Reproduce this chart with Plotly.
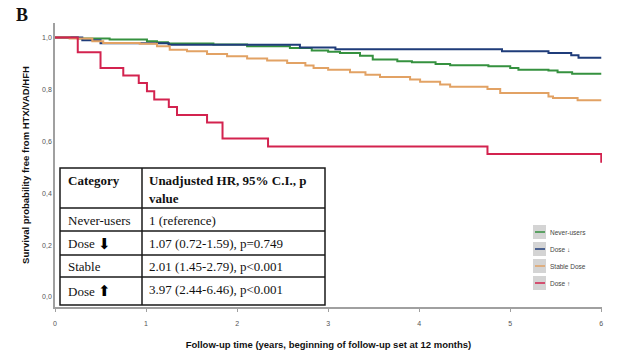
import plotly.graph_objects as go

# ---------------- data ----------------
never_t = [0, 0.25, 0.60, 1.01, 1.12, 1.24, 1.74, 2.11, 2.58, 2.82, 3.00, 3.13, 3.35, 3.49, 3.76, 3.92, 4.18, 4.34, 4.76, 5.00, 5.09, 5.42, 5.52, 5.68, 6.0]
never_s = [1.0, 0.996, 0.992, 0.986, 0.982, 0.977, 0.973, 0.966, 0.960, 0.950, 0.945, 0.940, 0.930, 0.915, 0.909, 0.905, 0.898, 0.893, 0.889, 0.883, 0.876, 0.873, 0.866, 0.860, 0.860]

down_t = [0, 0.30, 0.50, 1.25, 2.69, 3.08, 4.91, 5.42, 5.67, 5.75, 6.0]
down_s = [1.0, 0.990, 0.978, 0.972, 0.962, 0.955, 0.947, 0.940, 0.932, 0.922, 0.922]

stable_t = [0, 0.16, 0.41, 0.53, 0.93, 1.12, 1.26, 1.45, 1.67, 1.89, 2.11, 2.33, 2.55, 2.75, 2.84, 3.00, 3.24, 3.41, 3.57, 3.90, 4.01, 4.23, 4.34, 4.75, 4.89, 5.42, 5.47, 5.74, 6.0]
stable_s = [1.0, 0.996, 0.986, 0.979, 0.976, 0.966, 0.953, 0.947, 0.937, 0.928, 0.919, 0.911, 0.902, 0.892, 0.883, 0.876, 0.866, 0.857, 0.848, 0.838, 0.830, 0.819, 0.810, 0.802, 0.786, 0.773, 0.767, 0.758, 0.758]

up_t = [0, 0.25, 0.50, 0.75, 0.92, 1.01, 1.09, 1.25, 1.34, 1.67, 1.84, 2.34, 4.75, 6.0]
up_s = [1.0, 0.943, 0.883, 0.854, 0.825, 0.793, 0.761, 0.732, 0.701, 0.673, 0.611, 0.580, 0.551, 0.517]

series_names = ["Never-users", "Dose ↓", "Stable Dose", "Dose ↑"]
series_colors = ["#35913f", "#1f3c7a", "#e2a264", "#d3234f"]
series_t = [never_t, down_t, stable_t, up_t]
series_s = [never_s, down_s, stable_s, up_s]

x_ticks = [0, 1, 2, 3, 4, 5, 6]
y_ticks = [0.0, 0.2, 0.4, 0.6, 0.8, 1.0]
y_tick_labels = ["0,0", "0,2", "0,4", "0,6", "0,8", "1,0"]

table_cat = ["Never-users", "Dose", "Stable", "Dose"]
table_arrow = ["", "⬇", "", "⬆"]
table_hr = ["1 (reference)", "1.07 (0.72-1.59), p=0.749", "2.01 (1.45-2.79), p<0.001", "3.97 (2.44-6.46), p<0.001"]
table_head = ["Category", "Unadjusted HR, 95% C.I., p", "value"]

# ---------------- layout helpers ----------------
W, H = 618, 351
L, R, T, B = 55, 602, 23, 307


def px(x):
    return (x - L) / (R - L)


def py(y):
    return (B - y) / (B - T)


fig = go.Figure()
for t, s, n, c in zip(series_t, series_s, series_names, series_colors):
    fig.add_trace(go.Scatter(x=t, y=s, mode="lines", name=n,
                             line=dict(color=c, width=2, shape="hv"),
                             showlegend=False, hoverinfo="skip"))

shapes = []
annotations = []

# table
tl, tr, tt, tb = 60, 325, 168, 305
colx = 142
rows_y = [208, 231, 255, 277]
lc = "#1a1a1a"
shapes.append(dict(type="rect", xref="paper", yref="paper", x0=px(tl), x1=px(tr), y0=py(tb), y1=py(tt),
                   line=dict(color=lc, width=1.5), fillcolor="white", layer="above"))
shapes.append(dict(type="line", xref="paper", yref="paper", x0=px(colx), x1=px(colx), y0=py(tb), y1=py(tt),
                   line=dict(color=lc, width=1.5), layer="above"))
for ry in rows_y:
    shapes.append(dict(type="line", xref="paper", yref="paper", x0=px(tl), x1=px(tr), y0=py(ry), y1=py(ry),
                       line=dict(color=lc, width=1.5), layer="above"))

serif = "Liberation Serif"
annotations.append(dict(x=px(66), y=py(181), xref="paper", yref="paper", text="<b>%s</b>" % table_head[0],
                        showarrow=False, xanchor="left", yanchor="middle",
                        font=dict(family=serif, size=13, color="#111")))
annotations.append(dict(x=px(147), y=py(181), xref="paper", yref="paper", text="<b>%s</b>" % table_head[1],
                        showarrow=False, xanchor="left", yanchor="middle",
                        font=dict(family=serif, size=13, color="#111")))
annotations.append(dict(x=px(147), y=py(198), xref="paper", yref="paper", text="<b>%s</b>" % table_head[2],
                        showarrow=False, xanchor="left", yanchor="middle",
                        font=dict(family=serif, size=13, color="#111")))
row_centers = [220, 243.5, 266.5, 291]
hr_centers = [220, 243.5, 266.5, 289]
for cat, arr, hr, yc, yh in zip(table_cat, table_arrow, table_hr, row_centers, hr_centers):
    annotations.append(dict(x=px(66), y=py(yc), xref="paper", yref="paper", text=cat,
                            showarrow=False, xanchor="left", yanchor="middle",
                            font=dict(family=serif, size=13, color="#111")))
    if arr:
        annotations.append(dict(x=px(104), y=py(yc), xref="paper", yref="paper", text=arr,
                                showarrow=False, xanchor="center", yanchor="middle",
                                font=dict(family="DejaVu Sans", size=15, color="#000")))
    annotations.append(dict(x=px(147), y=py(yh), xref="paper", yref="paper", text=hr,
                            showarrow=False, xanchor="left", yanchor="middle",
                            font=dict(family=serif, size=13, color="#111")))

# legend (manual, SPSS-style gray swatches)
leg_y = [232, 249, 266, 283]
for n, c, ly in zip(series_names, series_colors, leg_y):
    shapes.append(dict(type="rect", xref="paper", yref="paper", x0=px(533), x1=px(546), y0=py(ly + 7), y1=py(ly - 7),
                       line=dict(width=0), fillcolor="#d4d4d4", layer="above"))
    shapes.append(dict(type="line", xref="paper", yref="paper", x0=px(535), x1=px(545), y0=py(ly), y1=py(ly),
                       line=dict(color=c, width=1.5), layer="above"))
    annotations.append(dict(x=px(548), y=py(ly), xref="paper", yref="paper", text=n,
                            showarrow=False, xanchor="left", yanchor="middle",
                            font=dict(family="Liberation Sans", size=6.5, color="#444")))

# panel letter
annotations.append(dict(x=px(14), y=py(15), xref="paper", yref="paper", text="<b>B</b>",
                        showarrow=False, xanchor="left", yanchor="middle",
                        font=dict(family=serif, size=18, color="#111")))

fig.update_layout(
    width=W, height=H,
    margin=dict(l=L, r=W - R, t=T, b=H - B, pad=0, autoexpand=False),
    paper_bgcolor="white", plot_bgcolor="white",
    font=dict(family="Liberation Sans", color="#555"),
    shapes=shapes, annotations=annotations,
    xaxis=dict(range=[0, 6.008], tickvals=x_ticks, ticktext=[str(v) for v in x_ticks],
               showgrid=False, zeroline=False, showline=True, linecolor="#a0a0a0", linewidth=1.5,
               ticks="outside", ticklen=3, tickcolor="#a0a0a0", tickfont=dict(size=7, color="#555"),
               ticklabelstandoff=6, automargin=False,
               title=dict(text="<b>Follow-up time (years, beginning of follow-up set at 12 months)</b>",
                          font=dict(size=9.5, color="#111"), standoff=15)),
    yaxis=dict(range=[-0.0385, 1.056], tickvals=y_ticks, ticktext=y_tick_labels,
               showgrid=False, zeroline=False, showline=True, linecolor="#a0a0a0", linewidth=1.5,
               ticks="", tickfont=dict(size=7, color="#555"), automargin=False,
               title=dict(text="<b>Survival probability free from HTX/VAD/HFH</b>",
                          font=dict(size=9.5, color="#111"), standoff=11)),
)

fig.write_html("out.html", config={"displayModeBar": False},
               post_script="document.body.style.margin='0';")
